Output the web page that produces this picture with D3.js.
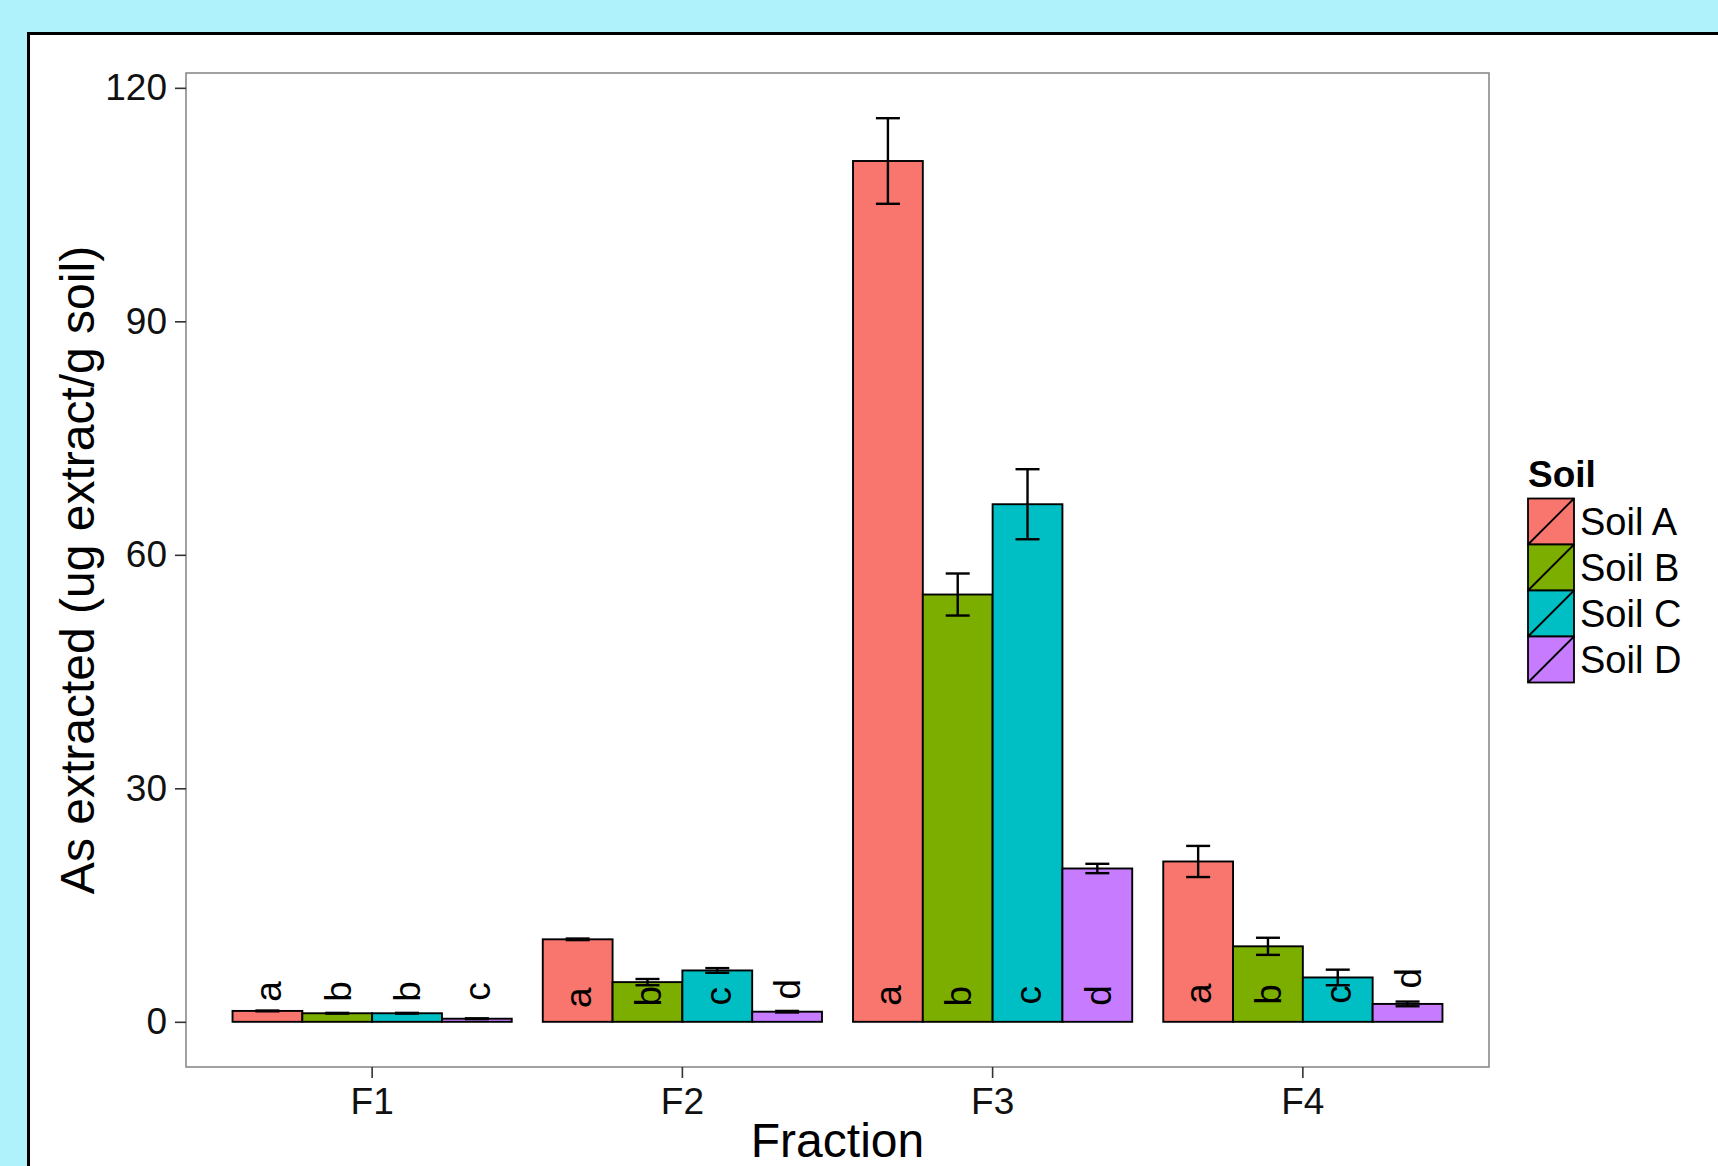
<!DOCTYPE html>
<html>
<head>
<meta charset="utf-8">
<script src="https://cdn.jsdelivr.net/npm/d3@7"></script>
<style>
  html, body { margin: 0; padding: 0; background: #aff2fb; }
  svg { display: block; }
  text { font-family: "Liberation Sans", Arial, Helvetica, sans-serif; }
</style>
</head>
<body>
<svg id="chart" width="1718" height="1166"></svg>
<script>
// ---- Data ----
const fractions = ["F1", "F2", "F3", "F4"];
const soils = ["Soil A", "Soil B", "Soil C", "Soil D"];
const soilColors = ["#F8766D", "#7CAE00", "#00BFC4", "#C77CFF"];

const soilA = [1.4, 10.6, 110.6, 20.6];
const soilB = [1.1, 5.1, 54.9, 9.7];
const soilC = [1.1, 6.6, 66.5, 5.7];
const soilD = [0.4, 1.3, 19.7, 2.3];

const errA = [0.05, 0.1, 5.5, 2.0];
const errB = [0.05, 0.4, 2.7, 1.1];
const errC = [0.05, 0.3, 4.5, 1.0];
const errD = [0.05, 0.1, 0.6, 0.3];

const lettersA = ["a", "a", "a", "a"];
const lettersB = ["b", "b", "b", "b"];
const lettersC = ["b", "c", "c", "c"];
const lettersD = ["c", "d", "d", "d"];

const labelPosA = [3.9, 3.1, 3.4, 3.6];
const labelPosB = [3.9, 3.3, 3.3, 3.5];
const labelPosC = [3.9, 3.3, 3.4, 3.5];
const labelPosD = [3.9, 4.2, 3.4, 5.6];

const yTicks = [0, 30, 60, 90, 120];

const values = [soilA, soilB, soilC, soilD];
const errors = [errA, errB, errC, errD];
const letters = [lettersA, lettersB, lettersC, lettersD];
const labelPos = [labelPosA, labelPosB, labelPosC, labelPosD];

const records = [];
fractions.forEach((f, i) => {
  soils.forEach((s, j) => {
    records.push({fraction: f, soil: s, si: j, value: values[j][i], err: errors[j][i],
                  letter: letters[j][i], ly: labelPos[j][i]});
  });
});

// ---- Layout ----
const svg = d3.select("#chart");
const plot = {left: 186, right: 1489, top: 73, bottom: 1067};

// outer white panel
svg.append("rect")
  .attr("x", 28.5).attr("y", 33.5)
  .attr("width", 1760).attr("height", 1200)
  .attr("fill", "#ffffff").attr("stroke", "#000").attr("stroke-width", 3);

const dataMax = d3.max(records, d => d.value + d.err);
const pad = dataMax * 0.05;
const y = d3.scaleLinear().domain([-pad, dataMax + pad]).range([plot.bottom, plot.top]);

const x0 = d3.scaleBand().domain(fractions).range([plot.left, plot.right])
  .paddingInner(0.1).paddingOuter(0.15);
const x1 = d3.scaleBand().domain(soils).range([0, x0.bandwidth()]).padding(0);
const color = d3.scaleOrdinal().domain(soils).range(soilColors);

// plot border
svg.append("rect")
  .attr("x", plot.left).attr("y", plot.top)
  .attr("width", plot.right - plot.left).attr("height", plot.bottom - plot.top)
  .attr("fill", "#fff").attr("stroke", "#8a8a8a").attr("stroke-width", 1.6);

// bars
const g = svg.append("g");
g.selectAll("rect.bar").data(records).enter().append("rect")
  .attr("class", "bar")
  .attr("x", d => x0(d.fraction) + x1(d.soil))
  .attr("width", x1.bandwidth())
  .attr("y", d => y(d.value))
  .attr("height", d => y(0) - y(d.value))
  .attr("fill", d => color(d.soil))
  .attr("stroke", "#000").attr("stroke-width", 1.9);

// error bars
const capHalf = 12;
const eb = g.selectAll("g.err").data(records).enter().append("g").attr("class", "err")
  .attr("stroke", "#000").attr("stroke-width", 2.4);
const cx = d => x0(d.fraction) + x1(d.soil) + x1.bandwidth() / 2;
eb.append("line").attr("x1", cx).attr("x2", cx)
  .attr("y1", d => y(d.value - d.err)).attr("y2", d => y(d.value + d.err));
eb.append("line").attr("x1", d => cx(d) - capHalf).attr("x2", d => cx(d) + capHalf)
  .attr("y1", d => y(d.value + d.err)).attr("y2", d => y(d.value + d.err));
eb.append("line").attr("x1", d => cx(d) - capHalf).attr("x2", d => cx(d) + capHalf)
  .attr("y1", d => y(d.value - d.err)).attr("y2", d => y(d.value - d.err));

// letters
g.selectAll("text.lab").data(records).enter().append("text")
  .attr("class", "lab")
  .attr("transform", d => `translate(${cx(d)},${y(d.ly)}) rotate(-90)`)
  .attr("text-anchor", "middle")
  .attr("dy", "0.36em")
  .attr("font-size", 37)
  .attr("fill", "#000")
  .text(d => d.letter);

// y axis
const yAxis = svg.append("g").attr("transform", `translate(${plot.left},0)`)
  .call(d3.axisLeft(y).tickValues(yTicks).tickSize(11).tickPadding(8));
yAxis.select(".domain").remove();
yAxis.selectAll(".tick line").attr("stroke", "#333").attr("stroke-width", 1.6);
yAxis.selectAll(".tick text").attr("font-size", 37).attr("fill", "#111")
  .attr("font-family", "Liberation Sans, Arial, sans-serif");

// x axis
const xAxis = svg.append("g").attr("transform", `translate(0,${plot.bottom})`)
  .call(d3.axisBottom(x0).tickSize(11).tickPadding(10));
xAxis.select(".domain").remove();
xAxis.selectAll(".tick line").attr("stroke", "#333").attr("stroke-width", 1.6);
xAxis.selectAll(".tick text").attr("font-size", 37).attr("fill", "#111")
  .attr("font-family", "Liberation Sans, Arial, sans-serif");

// axis titles
svg.append("text")
  .attr("x", (plot.left + plot.right) / 2).attr("y", 1157)
  .attr("text-anchor", "middle").attr("font-size", 48).attr("fill", "#000")
  .text("Fraction");
svg.append("text")
  .attr("transform", `translate(94,${(plot.top + plot.bottom) / 2}) rotate(-90)`)
  .attr("text-anchor", "middle").attr("font-size", 48).attr("fill", "#000")
  .text("As extracted (ug extract/g soil)");

// legend
const leg = svg.append("g").attr("transform", "translate(1528,0)");
leg.append("text").attr("x", 0).attr("y", 487)
  .attr("font-size", 37).attr("font-weight", "bold").attr("fill", "#000").text("Soil");
const keySize = 46, keyTop = 498.5;
const items = leg.selectAll("g.item").data(soils).enter().append("g").attr("class", "item")
  .attr("transform", (d, i) => `translate(0,${keyTop + i * keySize})`);
items.append("rect").attr("width", keySize).attr("height", keySize)
  .attr("fill", d => color(d)).attr("stroke", "#000").attr("stroke-width", 1.8);
items.append("line").attr("x1", 0).attr("y1", keySize).attr("x2", keySize).attr("y2", 0)
  .attr("stroke", "#000").attr("stroke-width", 1.8);
items.append("text").attr("x", keySize + 6).attr("y", keySize / 2).attr("dy", "0.36em")
  .attr("font-size", 38).attr("fill", "#000").text(d => d);
</script>
</body>
</html>
